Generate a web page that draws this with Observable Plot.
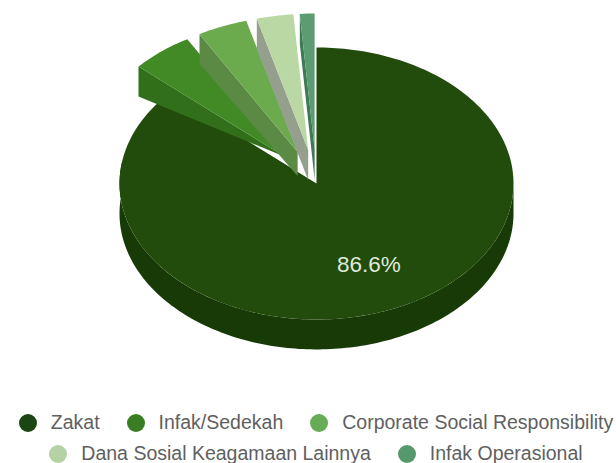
<!DOCTYPE html>
<html>
<head>
<meta charset="utf-8">
<script src="https://cdn.jsdelivr.net/npm/d3@7"></script>
<script src="https://cdn.jsdelivr.net/npm/@observablehq/plot@0.6"></script>
<style>
  html, body { margin: 0; background: #fff; }
  #chart svg { display: block; }
  .legend { font: 19.5px "Liberation Sans", Arial, sans-serif; color: #5f5f5f; width: 616px; padding-top: 7px; position: relative; left: 8px; }
  .row { display: flex; justify-content: center; gap: 27px; height: 31px; align-items: center; white-space: nowrap; }
  .item { display: flex; align-items: center; }
  .dot { width: 18px; height: 18px; border-radius: 50%; margin-right: 14px; flex: none; }
</style>
</head>
<body>
<div id="chart"></div>
<div class="legend" id="legend"></div>
<script>
// Share of collected funds by source, in percent
const sources = ["Zakat", "Infak/Sedekah", "Corporate Social Responsibility", "Dana Sosial Keagamaan Lainnya", "Infak Operasional"];
const shares = [86.6, 5.1, 4.1, 3.0, 1.2];
const topColors = ["#224c0b", "#418a25", "#6cab4d", "#b9d8a4", "#5b9c73"];
const wallColors = ["#173a06", "#316f1b", "#5b8a44", "#949f8e", "#3f7a55"];
const legendColors = ["#1b4513", "#3a7d22", "#66ab55", "#b5d2a5", "#55996d"];
const legendRows = [[0, 1, 2], [3, 4]];
// How much of the wall height survives at the inner tip of each lifted slice
const innerWall = [1, 0, 0.8, 1, 1];

// Pie geometry, in pie-radius units
const explode = 0.25;
const depth = 0.22;
const squash = 136 / 197;
const pxPerUnit = 197;

const arcs = d3.pie().sort(null).startAngle(0).endAngle(2 * Math.PI)(shares);

const shapes = [];
function addShape(key, color, pts) {
  pts.forEach(([x, y]) => shapes.push({key, color, x, y}));
}
function arcPoints(a0, a1, cx, cy, dz = 0) {
  const n = Math.max(2, Math.ceil(Math.abs(a1 - a0) / 0.02));
  return d3.range(n + 1).map(i => {
    const a = a0 + (a1 - a0) * i / n;
    return [cx + Math.sin(a), cy + Math.cos(a) - dz];
  });
}

arcs.forEach((arc, i) => {
  const mid = (arc.startAngle + arc.endAngle) / 2;
  const off = i === 0 ? 0 : explode;
  const cx = off * Math.sin(mid), cy = off * Math.cos(mid);
  if (i === 0) {
    const front = arcPoints(Math.PI / 2, 1.55 * Math.PI, cx, cy);
    const low = arcPoints(1.55 * Math.PI, Math.PI / 2, cx, cy, depth);
    addShape(`wall${i}`, wallColors[i], [...front, ...low]);
  } else {
    // the cut face on the left edge of a lifted slice is the one facing the viewer
    const edge = [cx + Math.sin(arc.startAngle), cy + Math.cos(arc.startAngle)];
    addShape(`wall${i}`, wallColors[i], [
      [cx, cy], edge, [edge[0], edge[1] - depth], [cx, cy - depth * innerWall[i]]
    ]);
  }
  addShape(`top${i}`, topColors[i], [[cx, cy], ...arcPoints(arc.startAngle, arc.endAngle, cx, cy)]);
});

const zakatMid = (arcs[0].startAngle + arcs[0].endAngle) / 2;
const labelAt = [{x: 0.65 * Math.sin(zakatMid), y: 0.65 * Math.cos(zakatMid), text: `${shares[0]}%`}];

const cx0 = 316, cy0 = 183, w = 616, h = 400;
const plot = Plot.plot({
  width: w,
  height: h,
  margin: 0,
  style: {background: "#fff"},
  x: {domain: [-cx0 / pxPerUnit, (w - cx0) / pxPerUnit], range: [0, w], axis: null},
  y: {domain: [(cy0 - h) / pxPerUnit / squash, cy0 / pxPerUnit / squash], range: [h, 0], axis: null},
  marks: [
    Plot.line(shapes, {x: "x", y: "y", z: "key", fill: "color", stroke: "none", curve: "linear"}),
    Plot.text(labelAt, {x: "x", y: "y", text: "text", fill: "#dfe9d8", fontSize: 22.5, dy: 1, fontFamily: "Liberation Sans, Arial, sans-serif"})
  ]
});
document.getElementById("chart").append(plot);

const legend = d3.select("#legend");
legendRows.forEach(row => {
  const r = legend.append("div").attr("class", "row");
  row.forEach(i => {
    const item = r.append("div").attr("class", "item");
    item.append("span").attr("class", "dot").style("background", legendColors[i]);
    item.append("span").text(sources[i]);
  });
});
</script>
</body>
</html>
